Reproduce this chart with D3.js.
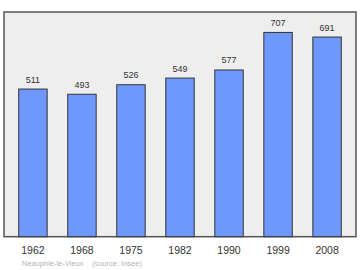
<!DOCTYPE html>
<html>
<head>
<meta charset="utf-8">
<script src="https://cdn.jsdelivr.net/npm/d3@7"></script>
<style>
body { margin: 0; background: #fff; }
text { font-family: "Liberation Sans", Arial, sans-serif; }
</style>
</head>
<body>
<div id="chart"></div>
<script>
var years = ["1962", "1968", "1975", "1982", "1990", "1999", "2008"];
var population = [511, 493, 526, 549, 577, 707, 691];
var place = "Neauphle-le-Vieux";
var source = "(source: Insee)";

var width = 360, height = 270;
var frame = { left: 4, top: 12, right: 356, bottom: 236.7 };

var svg = d3.select("#chart").append("svg")
    .attr("width", width)
    .attr("height", height);

// plot background and frame
svg.append("rect")
    .attr("x", frame.left)
    .attr("y", frame.top)
    .attr("width", frame.right - frame.left)
    .attr("height", frame.bottom - frame.top)
    .style("fill", "#eeeeee")
    .style("stroke", "#555")
    .style("stroke-width", 1.5);

var x = d3.scaleBand()
    .domain(years)
    .range([frame.left, frame.right])
    .paddingInner(0.42)
    .paddingOuter(0.3);

var y = d3.scaleLinear()
    .domain([0, d3.max(population) * 1.1])
    .range([frame.bottom, frame.top]);

var bars = svg.append("g");
bars.selectAll("rect")
    .data(population)
    .enter().append("rect")
    .attr("x", function(d, i) { return x(years[i]); })
    .attr("y", function(d) { return y(d); })
    .attr("width", x.bandwidth())
    .attr("height", function(d) { return y(0) - y(d); })
    .style("fill", "#6f98ff")
    .style("stroke", "#333")
    .style("stroke-width", 1);

bars.selectAll("text")
    .data(population)
    .enter().append("text")
    .attr("x", function(d, i) { return x(years[i]) + x.bandwidth() / 2; })
    .attr("y", function(d) { return y(d) - 6.5; })
    .attr("text-anchor", "middle")
    .style("font-size", "9px")
    .style("fill", "#333")
    .text(function(d) { return d; });

// year labels
var axis = d3.axisBottom(x).tickSize(0).tickPadding(10);
var ax = svg.append("g")
    .attr("transform", "translate(0," + frame.bottom + ")")
    .call(axis);
ax.select(".domain").remove();
ax.selectAll("text")
    .style("font-size", "10.5px")
    .style("fill", "#333")
    .style("font-family", "'Liberation Sans', Arial, sans-serif");

svg.append("text")
    .attr("x", 22)
    .attr("y", 266)
    .style("font-size", "7.5px")
    .style("fill", "#b5b5b5")
    .text(place + "    " + source)
    .attr("xml:space", "preserve")
    .style("white-space", "pre");
</script>
</body>
</html>
